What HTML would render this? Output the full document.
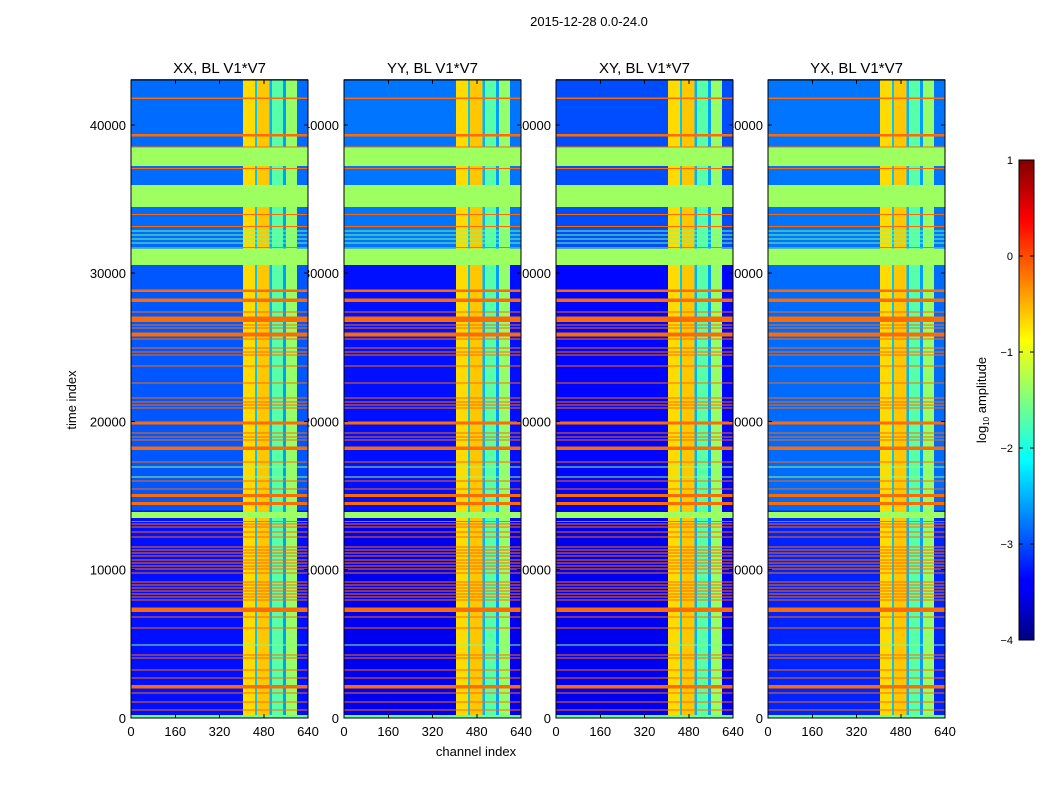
<!DOCTYPE html>
<html><head><meta charset="utf-8"><style>
body{margin:0;background:#fff;font-family:"Liberation Sans",sans-serif}
svg text{font-family:"Liberation Sans",sans-serif;fill:#000}
</style></head><body>
<svg id="fig" width="1050" height="800" viewBox="0 0 1050 800" xmlns="http://www.w3.org/2000/svg" shape-rendering="crispEdges">
<rect width="1050" height="800" fill="#fff"/>
<text x="589" y="26" font-size="13" text-anchor="middle">2015-12-28 0.0-24.0</text>
<g id="labels"></g>
<g id="panels"></g>
<text x="476" y="756" font-size="13" text-anchor="middle">channel index</text>
<text x="76" y="400" font-size="13" text-anchor="middle" transform="rotate(-90 76 400)">time index</text>
<defs><linearGradient id="jetg" x1="0" y1="1" x2="0" y2="0">
<stop offset="0" stop-color="#000080"/><stop offset="0.11" stop-color="#0000ff"/><stop offset="0.125" stop-color="#0000ff"/><stop offset="0.375" stop-color="#00ffff"/><stop offset="0.625" stop-color="#ffff00"/><stop offset="0.875" stop-color="#ff0000"/><stop offset="1" stop-color="#800000"/>
</linearGradient></defs>
<g>
<rect x="1019" y="160" width="15" height="480" fill="url(#jetg)" stroke="#000" stroke-width="1"/>
<g id="cbticks"></g>
<text x="986" y="400" font-size="13" text-anchor="middle" transform="rotate(-90 986 400)">log<tspan font-size="8" dy="3">10</tspan><tspan dy="-3"> amplitude</tspan></text>
</g>
</svg>
<script>
// ---- data ----
const panelTitles = ["XX, BL V1*V7","YY, BL V1*V7","XY, BL V1*V7","YX, BL V1*V7"];
const xTicks = [0,160,320,480,640];
const yTicks = [0,10000,20000,30000,40000];
const cbTicks = [1,0,-1,-2,-3,-4];
// background level per panel: [t0,t1,log10 amp]
const bgXX = [[31000,43100,-2.85],[14000,31000,-2.95],[0,14000,-3.3]];
const bgYY = [[31000,43100,-2.8],[14000,31000,-3.3],[0,14000,-3.45]];
const bgXY = [[31000,43100,-3.0],[14000,31000,-3.35],[0,14000,-3.45]];
const bgYX = [[31000,43100,-2.8],[14000,31000,-2.85],[0,14000,-3.2]];
const backgrounds = [bgXX,bgYY,bgXY,bgYX];
// channel columns: [ch0,ch1,log10 amp]
const columns = [[405,449,-0.7],[449,455,-2.4],[455,500,-0.6],[500,510,-2.5],[510,550,-1.7],[550,560,-2.6],[560,600,-1.4]];
// horizontal bands: [t0,t1,log10 amp]
const bands = [
[41770,41870,-0.15],[39220,39390,-0.15],[38490,38560,-0.15],[37230,38490,-1.35],[37030,37100,-0.15],
[34470,35950,-1.35],[33930,34000,-0.15],[33120,33190,-0.15],
[32820,32870,-1.6],[32550,32600,-1.6],[32280,32330,-1.6],[32010,32060,-1.6],
[31700,31770,-0.15],[30560,31670,-1.35],
[28730,28900,-0.15],[28060,28300,-0.15],[27350,27420,-0.15],[26710,27080,-0.15],
[26470,26540,-0.15],[26270,26340,-0.15],[25730,26000,-0.15],[25530,25600,-0.15],
[24920,24990,-0.15],[24650,24720,-0.15],[24450,24520,-0.15],[23710,23780,-0.15],
[22560,22630,-0.15],[21550,21620,-0.15],[21280,21350,-0.15],[21080,21150,-0.15],[20880,20950,-0.15],
[19800,20000,-0.15],[19190,19260,-0.15],[18920,18990,-0.15],[18720,18790,-0.15],[18080,18310,-0.15],
[17230,17300,-0.15],[16890,16960,-1.4],[16220,16290,-1.4],[15950,16020,-0.15],[15410,15480,-0.15],
[14910,15110,-0.15],[14370,14570,-0.15],[13490,13900,-1.35],
[13220,13290,-0.15],[13050,13120,-0.15],[12850,12920,-0.15],[12510,12580,-0.15],[12170,12240,-0.15],
[11494,11574,-0.15],[11292,11372,-0.15],[11090,11170,-0.15],[10887,10967,-0.15],[10617,10697,-0.15],
[10415,10495,-0.15],[10213,10293,-0.15],[10010,10090,-0.15],[9740,9820,-0.15],
[9133,9213,-0.15],[8931,9011,-0.15],[8729,8809,-0.15],[8526,8606,-0.15],[8324,8404,-0.15],
[8122,8202,-0.15],[7919,7999,-0.15],[7150,7450,-0.15],
[6780,6850,-0.15],[6040,6110,-0.15],[4890,4960,-1.5],[4210,4280,-0.15],[4010,4080,-0.15],
[3200,3270,-0.15],[2660,2730,-0.15],[1990,2230,-0.15],[1650,1720,-0.15],[1040,1110,-0.15],
[500,570,-0.15],[0,200,-1.6]];

// ---- geometry ----
const panelLeft = [131,344,556,768], PW=177, TOP=80, BOT=718, TMAX=43035, CHMAX=640;
const NS="http://www.w3.org/2000/svg";
function el(tag,attrs,parent){const e=document.createElementNS(NS,tag);for(const k in attrs)e.setAttribute(k,attrs[k]);parent.appendChild(e);return e;}
function jet(v){const f=Math.max(0,Math.min(1,(v+4)/5));
 const c=x=>Math.round(255*Math.max(0,Math.min(1,x)));
 return `rgb(${c(1.5-Math.abs(4*f-3))},${c(1.5-Math.abs(4*f-2))},${c(1.5-Math.abs(4*f-1))})`;}
const yS=t=>BOT-(t/TMAX)*(BOT-TOP);
const labels=document.getElementById('labels'), panels=document.getElementById('panels');

panelTitles.forEach((title,i)=>{
 const L=panelLeft[i]; const xS=c=>L+(c/CHMAX)*PW;
 yTicks.forEach(t=>{const tx=el('text',{x:L-5,y:yS(t)+5,'font-size':13,'text-anchor':'end'},labels);tx.textContent=t;
  
  });
 xTicks.forEach(c=>{const tx=el('text',{x:xS(c),y:736,'font-size':13,'text-anchor':'middle'},labels);tx.textContent=c;
  
  });
 const g=el('g',{},panels);
 
 
 const tt=el('text',{x:L+PW/2,y:73,'font-size':15,'text-anchor':'middle'},g);tt.textContent=title;
 
 
 backgrounds[i].forEach(b=>{const r=el('rect',{x:L,y:yS(b[1]),width:PW,height:yS(b[0])-yS(b[1]),fill:jet(b[2])},g);
  
  });
 columns.forEach(c=>{const r=el('rect',{x:xS(c[0]),y:TOP,width:xS(c[1])-xS(c[0]),height:BOT-TOP,fill:jet(c[2])},g);
  
  });
 bands.forEach(b=>{const y1=yS(b[1]),y0=yS(b[0]);const r=el('rect',{x:L,y:y1,width:PW,height:Math.max(1,y0-y1),fill:jet(b[2])},g);
  
  });
 el('rect',{x:L,y:TOP,width:PW,height:BOT-TOP,fill:'none',stroke:'#000','stroke-width':1},g);
 yTicks.forEach(t=>{el('line',{x1:L,x2:L+4,y1:yS(t),y2:yS(t),stroke:'#000'},g);el('line',{x1:L+PW-4,x2:L+PW,y1:yS(t),y2:yS(t),stroke:'#000'},g);});
 xTicks.forEach(c=>{el('line',{x1:xS(c),x2:xS(c),y1:BOT,y2:BOT-4,stroke:'#000'},g);el('line',{x1:xS(c),x2:xS(c),y1:TOP,y2:TOP+4,stroke:'#000'},g);});
});
const cb=document.getElementById('cbticks');
cbTicks.forEach(v=>{const y=160+(1-v)/5*480;
 el('line',{x1:1019,x2:1023,y1:y,y2:y,stroke:'#000'},cb);el('line',{x1:1030,x2:1034,y1:y,y2:y,stroke:'#000'},cb);
 const tx=el('text',{x:1013,y:y+4,'font-size':11,'text-anchor':'end'},cb);tx.textContent=v<0?'\u2212'+(-v):v;
 
 });
</script>
</body></html>
